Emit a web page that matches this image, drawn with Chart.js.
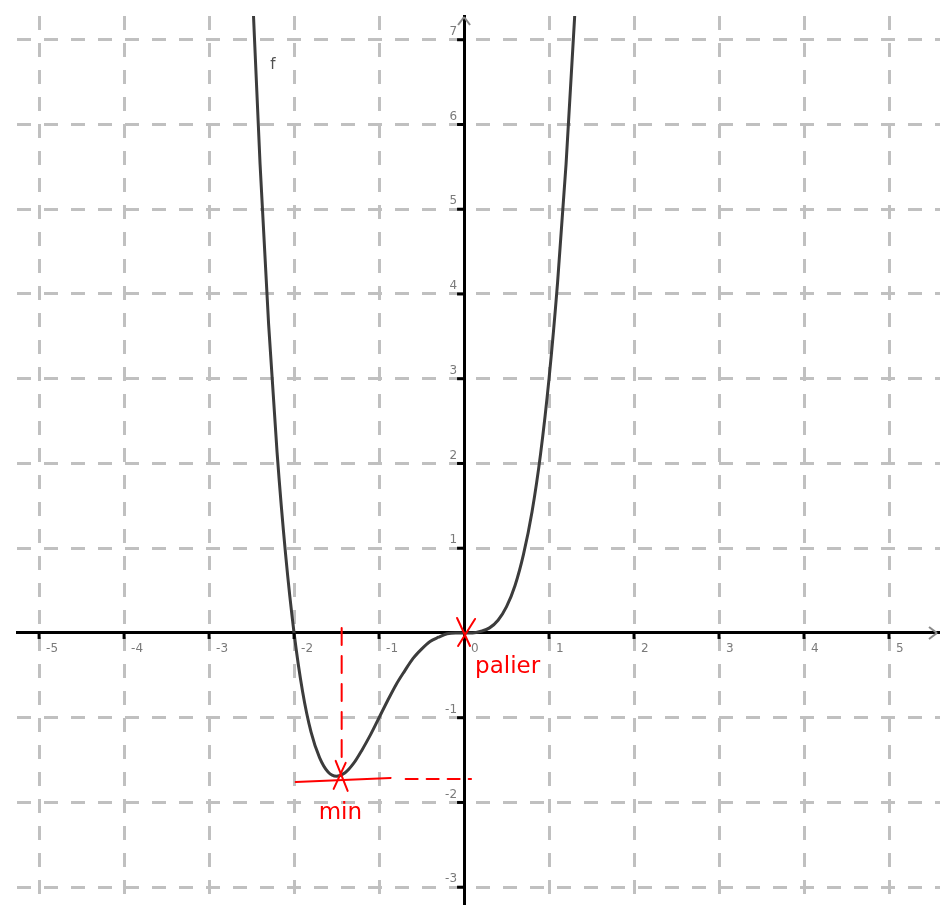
<!DOCTYPE html>
<html>
<head>
<meta charset="utf-8">
<script src="https://cdn.jsdelivr.net/npm/chart.js@4.4.1/dist/chart.umd.min.js"></script>
<style>
  html, body { margin: 0; padding: 0; background: #fff; }
  canvas { display: block; }
</style>
</head>
<body>
<canvas id="plot" width="940" height="905"></canvas>
<script>
// curve points
const CURVE_X = [-2.5, -2.4, -2.3, -2.2, -2.1, -2.0, -1.9, -1.8, -1.7, -1.6,
                 -1.5, -1.4, -1.3, -1.2, -1.1, -1.0, -0.9, -0.8, -0.7, -0.6,
                 -0.5, -0.4, -0.3, -0.2, -0.1, 0, 0.1, 0.2, 0.3, 0.4,
                 0.5, 0.6, 0.7, 0.8, 0.9, 1.0, 1.1, 1.2, 1.3, 1.4];
const CURVE_Y = [7.81, 5.53, 3.65, 2.13, 0.93, 0, -0.69, -1.17, -1.47, -1.64,
                 -1.69, -1.65, -1.54, -1.38, -1.2, -1, -0.8, -0.61, -0.45, -0.3,
                 -0.19, -0.1, -0.05, -0.01, 0, 0, 0, 0.02, 0.06, 0.15,
                 0.31, 0.56, 0.93, 1.43, 2.11, 3, 4.13, 5.53, 7.25, 9.33];

const X_TICKS = [-5, -4, -3, -2, -1, 0, 1, 2, 3, 4, 5];
const Y_TICKS = [-3, -2, -1, 1, 2, 3, 4, 5, 6, 7];

// hand-drawn notes
const MIN_POINT = [-1.44, -1.71];
const PALIER_POINT = [0, 0];
const NOTE_MIN = 'min';
const NOTE_PALIER = 'palier';
const CURVE_NAME = 'f';

const X_MIN = -5.26, X_MAX = 5.6;
const Y_MIN = -3.21, Y_MAX = 7.28;

const RED = '#ff0000';

const points = CURVE_X.map((v, i) => ({ x: v, y: CURVE_Y[i] }));

function seg(ctx, x1, y1, x2, y2) {
    ctx.beginPath();
    ctx.moveTo(x1, y1);
    ctx.lineTo(x2, y2);
    ctx.stroke();
}

const decor = {
    id: 'decor',
    afterDraw(chart) {
        const { ctx, scales: { x, y } } = chart;
        const x0 = x.getPixelForValue(0);
        const y0 = y.getPixelForValue(0);
        ctx.save();

        // small tick marks on the axes
        ctx.strokeStyle = '#000';
        ctx.lineWidth = 3;
        X_TICKS.forEach(v => {
            if (v === 0) return;
            const px = x.getPixelForValue(v);
            seg(ctx, px, y0, px, y0 + 6);
        });
        Y_TICKS.forEach(v => {
            const py = y.getPixelForValue(v);
            seg(ctx, x0, py, x0 - 7, py);
        });

        // arrow tips
        ctx.strokeStyle = '#8a8a8a';
        ctx.lineWidth = 2;
        const xr = chart.chartArea.right - 3;
        seg(ctx, xr - 8, y0 - 6, xr, y0);
        seg(ctx, xr - 8, y0 + 6, xr, y0);
        const yt = chart.chartArea.top + 1;
        seg(ctx, x0 - 6, yt + 8, x0, yt);
        seg(ctx, x0 + 6, yt + 8, x0, yt);

        // tick labels
        ctx.fillStyle = '#7a7a7a';
        ctx.font = '12px "DejaVu Sans"';
        ctx.textAlign = 'left';
        ctx.textBaseline = 'top';
        X_TICKS.forEach(v => ctx.fillText(String(v), x.getPixelForValue(v) + 7, y0 + 10));
        ctx.textAlign = 'right';
        ctx.textBaseline = 'bottom';
        Y_TICKS.forEach(v => ctx.fillText(String(v), x0 - 7, y.getPixelForValue(v) - 2));

        // curve name
        ctx.fillStyle = '#505050';
        ctx.font = '15px "DejaVu Sans"';
        ctx.textAlign = 'center';
        ctx.textBaseline = 'alphabetic';
        ctx.fillText(CURVE_NAME, x.getPixelForValue(-2.25), y.getPixelForValue(6.65));

        // red notes
        const mx = x.getPixelForValue(MIN_POINT[0]);
        const my = y.getPixelForValue(MIN_POINT[1]);
        const px = x.getPixelForValue(PALIER_POINT[0]);
        const py = y.getPixelForValue(PALIER_POINT[1]);
        ctx.strokeStyle = RED;
        ctx.lineWidth = 2;
        ctx.lineCap = 'round';

        ctx.setLineDash([17, 11]);
        seg(ctx, mx, y0 - 5, mx, my - 12);
        ctx.setLineDash([12, 9]);
        seg(ctx, mx + 64, my + 1, x0 + 7, my + 1);
        ctx.setLineDash([]);

        seg(ctx, mx - 46, my + 4, mx + 49, my);       // tangent
        seg(ctx, mx - 6, my - 17, mx + 6, my + 13);   // cross at min
        seg(ctx, mx + 4, my - 15, mx - 8, my + 11);
        seg(ctx, px - 7, py - 15, px + 6, py + 13);   // cross at palier
        seg(ctx, px + 11, py - 14, px - 6, py + 13);

        ctx.fillStyle = RED;
        ctx.font = '23px "DejaVu Sans"';
        ctx.textAlign = 'left';
        ctx.textBaseline = 'alphabetic';
        ctx.fillText(NOTE_MIN, mx - 23, my + 41);
        ctx.fillText(NOTE_PALIER, px + 11, py + 40);

        ctx.restore();
    }
};

const axisGrid = { color: '#c0c0c0', lineWidth: 3, drawTicks: false };
const axisBorder = { display: true, color: '#000', width: 3, dash: [14, 13] };

new Chart(document.getElementById('plot'), {
    type: 'scatter',
    data: {
        datasets: [{
            data: points,
            showLine: true,
            borderColor: '#3c3c3c',
            borderWidth: 3,
            pointRadius: 0,
            fill: false,
            cubicInterpolationMode: 'monotone'
        }]
    },
    options: {
        responsive: false,
        animation: false,
        devicePixelRatio: 1,
        events: [],
        layout: { padding: { left: 17, top: 16, right: 0, bottom: 0 } },
        plugins: {
            legend: { display: false },
            tooltip: { enabled: false }
        },
        scales: {
            x: {
                type: 'linear',
                min: X_MIN,
                max: X_MAX,
                position: { y: 0 },
                ticks: { stepSize: 1, includeBounds: false, display: false },
                grid: axisGrid,
                border: axisBorder
            },
            y: {
                type: 'linear',
                min: Y_MIN,
                max: Y_MAX,
                position: { x: 0 },
                ticks: { stepSize: 1, includeBounds: false, display: false },
                grid: axisGrid,
                border: axisBorder
            }
        }
    },
    plugins: [decor]
});
</script>
</body>
</html>
